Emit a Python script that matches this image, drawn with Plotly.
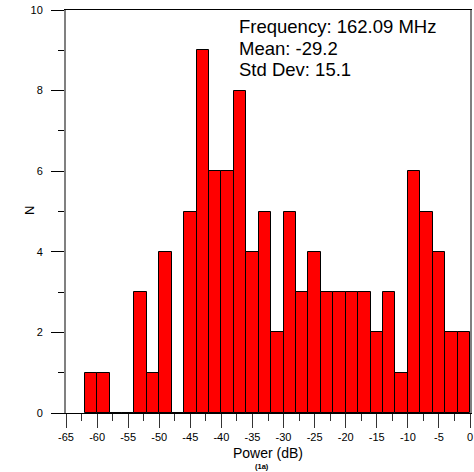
import plotly.graph_objects as go

# Histogram bins (left edges, dB) and counts
bin_start = [-62, -60, -58, -56, -54, -52, -50, -48, -46, -44, -42, -40, -38, -36,
             -34, -32, -30, -28, -26, -24, -22, -20, -18, -16, -14, -12, -10, -8,
             -6, -4, -2]
counts = [1, 1, 0, 0, 3, 1, 4, 0, 5, 9, 6, 6, 8, 4,
          5, 2, 5, 3, 4, 3, 3, 3, 3, 2, 3, 1, 6, 5,
          4, 2, 2]
bin_width = 2
x_ticks = [-65, -60, -55, -50, -45, -40, -35, -30, -25, -20, -15, -10, -5, 0]
y_ticks = [0, 2, 4, 6, 8, 10]
info_lines = ["Frequency: 162.09 MHz", "Mean: -29.2", "Std Dev: 15.1"]

FONT = "Arial, Liberation Sans, sans-serif"

# plot-area geometry in pixels (for placing text annotations)
L, R, T, B = 66, 4, 10, 59
W, H = 474, 472
PW, PH = W - L - R, H - T - B


def px_x(x):
    return (x - L) / PW


def px_y(y):
    return (H - B - y) / PH


fig = go.Figure()
fig.add_trace(go.Bar(
    x=[b + bin_width / 2 for b in bin_start],
    y=counts,
    width=bin_width,
    marker=dict(color="#ff0000", line=dict(color="#000000", width=1)),
    hoverinfo="skip",
))

fig.update_layout(
    width=W, height=H,
    margin=dict(l=L, r=R, t=T, b=B, autoexpand=False),
    paper_bgcolor="white", plot_bgcolor="white",
    showlegend=False,
    font=dict(family=FONT, color="#000000"),
    bargap=0,
)

fig.update_xaxes(
    automargin=False,
    range=[-65, 0],
    tickvals=x_ticks,
    ticktext=[str(v) for v in x_ticks],
    ticks="outside", ticklen=14, tickwidth=1, tickcolor="#333333",
    minor=dict(dtick=2.5, ticks="outside", ticklen=7, tickcolor="#333333", tickwidth=1),
    showgrid=False, zeroline=False,
    showline=True, linecolor="#000000", linewidth=1, mirror=True,
    tickfont=dict(size=11, family=FONT),
)
fig.update_yaxes(
    automargin=False,
    range=[0, 10],
    tickvals=y_ticks,
    ticks="outside", ticklen=13, tickwidth=1, tickcolor="#000000",
    minor=dict(dtick=1, ticks="outside", ticklen=6, tickcolor="#000000", tickwidth=1),
    showgrid=False, zeroline=False,
    showline=True, linecolor="#808080", linewidth=2, mirror=True,
    tickfont=dict(size=11, family=FONT),
    ticklabelstandoff=6,
)

# axis titles
fig.add_annotation(
    xref="paper", yref="paper", x=px_x(268), y=px_y(453),
    xanchor="center", yanchor="middle", borderpad=0,
    text="Power (dB)", showarrow=False,
    font=dict(size=14, family=FONT, color="#000000"),
)
fig.add_annotation(
    xref="paper", yref="paper", x=px_x(29), y=px_y(211),
    xanchor="center", yanchor="middle", textangle=-90,
    text="N", showarrow=False,
    font=dict(size=13, family=FONT, color="#000000"),
)

# info text, one annotation per line
for i, line in enumerate(info_lines):
    fig.add_annotation(
        xref="paper", yref="paper", x=px_x(237), y=px_y(26 + 22 * i),
        xanchor="left", yanchor="middle",
        text=line, align="left", showarrow=False,
        font=dict(size=18.5, family=FONT, color="#000000"),
    )

fig.add_annotation(
    xref="paper", yref="paper", x=px_x(262), y=px_y(472),
    xanchor="center", yanchor="bottom", borderpad=0,
    text="<b>(1a)</b>", showarrow=False,
    font=dict(size=7.5, family=FONT, color="#000000"),
)

fig.write_html(
    "out.html",
    config={"displayModeBar": False},
    post_script="document.body.style.margin='0';document.body.style.overflow='hidden';",
)
